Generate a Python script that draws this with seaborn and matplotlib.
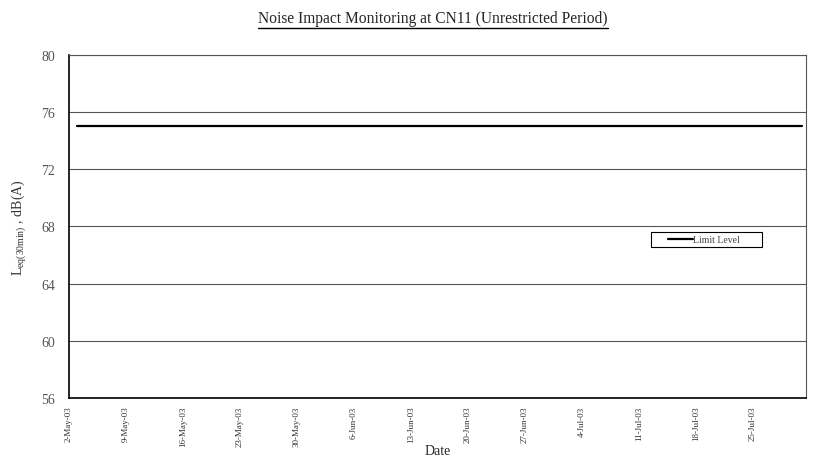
import matplotlib
matplotlib.use("Agg")
import matplotlib.pyplot as plt
import matplotlib.dates as mdates
import pandas as pd
import seaborn as sns
from matplotlib.lines import Line2D
from matplotlib.patches import Rectangle

# Limit level line across the monitoring period
limit_dates = ["2003-05-03", "2003-07-31"]
limit_values = [75, 75]
y_ticks = [56, 60, 64, 68, 72, 76, 80]
x_tick_dates = pd.date_range("2003-05-02", "2003-07-25", freq="7D")

sns.set_theme(style="white")
plt.rcParams["font.family"] = ["Liberation Serif", "DejaVu Serif"]
plt.rcParams["mathtext.fontset"] = "custom"
plt.rcParams["mathtext.rm"] = "Liberation Serif"

df = pd.DataFrame({"date": pd.to_datetime(limit_dates), "level": limit_values})

fig = plt.figure(figsize=(8.14, 4.6), dpi=100)
ax = fig.add_axes([0.0848, 0.1326, 0.905, 0.7457])

sns.lineplot(data=df, x="date", y="level", color="black", linewidth=1.6,
             label="Limit Level", ax=ax)

ax.set_ylim(56, 80)
ax.set_yticks(y_ticks)
ax.set_xlim(pd.Timestamp("2003-05-02"), pd.Timestamp("2003-07-31 12:00"))
ax.set_xticks(x_tick_dates)
ax.xaxis.set_major_formatter(mdates.DateFormatter("%-d-%b-%y"))
ax.tick_params(axis="x", labelrotation=90, labelsize=6.5, direction="inout",
               length=4, color="black", labelcolor="#333333")
ax.tick_params(axis="y", labelsize=10, direction="inout", length=6, pad=7,
               color="black", labelcolor="#555555")
ax.grid(axis="y", color="#555555", linewidth=0.8)
ax.grid(axis="x", visible=False)

for side in ["left", "bottom"]:
    ax.spines[side].set_color("black")
    ax.spines[side].set_linewidth(1.2)
for side in ["top", "right"]:
    ax.spines[side].set_color("#555555")
    ax.spines[side].set_linewidth(0.8)

ax.set_xlabel("Date", fontsize=10)
ax.xaxis.set_label_coords(0.5, -0.134)
ax.set_ylabel(r"L$_{\mathrm{eq(30min)}}$ , dB(A)", fontsize=10, color="#333333")
ax.yaxis.set_label_coords(-0.054, 0.5)

# legend content without frame, plus an explicit box like the original
leg = ax.legend(loc="center", bbox_to_anchor=(0.862, 0.462), fontsize=7,
                frameon=False, handlelength=2.5, handletextpad=0.0,
                labelcolor="#444444")
ax.add_patch(Rectangle((0.7897, 0.440), 0.1506, 0.044, transform=ax.transAxes,
                       facecolor="white", edgecolor="black", linewidth=0.8,
                       zorder=4))
leg.set_zorder(5)

title = fig.text(0.532, 0.958, "Noise Impact Monitoring at CN11 (Unrestricted Period)",
                 ha="center", va="center", fontsize=11.2)
fig.canvas.draw()
bb = title.get_window_extent().transformed(fig.transFigure.inverted())
fig.add_artist(Line2D([bb.x0, bb.x1], [bb.y0 - 0.004, bb.y0 - 0.004],
                      color="black", linewidth=1.0, transform=fig.transFigure))

fig.savefig("out.png", dpi=100)
